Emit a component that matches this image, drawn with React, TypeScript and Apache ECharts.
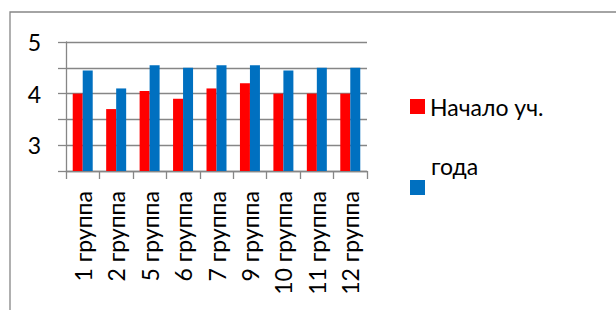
import React, { useEffect, useRef } from "react";
import * as echarts from "echarts";

const categories = [
  "1 группа",
  "2 группа",
  "5 группа",
  "6 группа",
  "7 группа",
  "9 группа",
  "10 группа",
  "11 группа",
  "12 группа",
];
const startValues = [4.0, 3.7, 4.05, 3.9, 4.1, 4.2, 4.0, 4.0, 4.0];
const endValues = [4.45, 4.1, 4.55, 4.5, 4.55, 4.55, 4.45, 4.5, 4.5];
const seriesNames = ["Начало уч. года", "Конец уч. года"];
const legendLine1 = "Начало уч.";
const legendLine2 = "года";

const FONT = "Lato, 'Liberation Sans', sans-serif";
const GRAY = "#868686";
const FS = 23;

export default function App() {
  const ref = useRef<HTMLDivElement>(null);
  useEffect(() => {
    if (!ref.current) return;
    const chart = echarts.init(ref.current, null, { renderer: "svg" });
    chart.setOption({
      animation: false,
      textStyle: { fontFamily: FONT },
      grid: { left: 66, right: 249, top: 42, bottom: 139, containLabel: false },
      graphic: [
        {
          type: "rect",
          silent: true,
          z: -10,
          shape: { x: 10, y: 12, width: 700, height: 400 },
          style: { fill: "none", stroke: GRAY, lineWidth: 1.3 },
        },
        {
          type: "text",
          silent: true,
          x: 431,
          y: 166,
          style: {
            text: legendLine2,
            fontFamily: FONT,
            fontSize: FS,
            fill: "#000",
            verticalAlign: "middle",
            align: "left",
          },
        },
      ],
      legend: [
        {
          data: [seriesNames[0]],
          left: 410,
          top: 95,
          padding: 0,
          itemWidth: 15,
          itemHeight: 15,
          icon: "rect",
          formatter: () => legendLine1,
          textStyle: { fontFamily: FONT, fontSize: FS, color: "#000" },
          selectedMode: false,
        },
        {
          data: [seriesNames[1]],
          left: 410,
          top: 180,
          padding: 0,
          itemWidth: 15,
          itemHeight: 15,
          icon: "rect",
          formatter: () => "",
          textStyle: { fontFamily: FONT, fontSize: FS, color: "#000" },
          selectedMode: false,
        },
      ],
      xAxis: {
        type: "category",
        data: categories,
        axisLine: { show: true, lineStyle: { color: GRAY, width: 1.3 } },
        axisTick: { show: true, length: 8, lineStyle: { color: GRAY, width: 1.3 } },
        axisLabel: {
          interval: 0,
          rotate: 90,
          margin: 20,
          fontSize: FS,
          fontFamily: FONT,
          color: "#000",
        },
      },
      yAxis: {
        type: "value",
        min: 2.5,
        max: 5,
        interval: 0.5,
        axisLine: { show: true, lineStyle: { color: GRAY, width: 1.3 } },
        axisTick: { show: true, length: 8, lineStyle: { color: GRAY, width: 1.3 } },
        splitLine: { show: true, lineStyle: { color: GRAY, width: 1.3 } },
        axisLabel: {
          margin: 25,
          fontSize: FS,
          fontFamily: FONT,
          color: "#000",
          formatter: (v: number) => (Number.isInteger(v) ? String(v) : ""),
        },
      },
      series: [
        {
          name: seriesNames[0],
          type: "bar",
          data: startValues,
          barWidth: 10,
          barGap: "0%",
          itemStyle: { color: "#FF0000" },
        },
        {
          name: seriesNames[1],
          type: "bar",
          data: endValues,
          barWidth: 10,
          barGap: "0%",
          itemStyle: { color: "#0070C0" },
        },
      ],
    });
    return () => chart.dispose();
  }, []);
  return (
    <div
      ref={ref}
      style={{ position: "absolute", left: 0, top: 0, width: 616, height: 310, background: "#fff" }}
    />
  );
}
